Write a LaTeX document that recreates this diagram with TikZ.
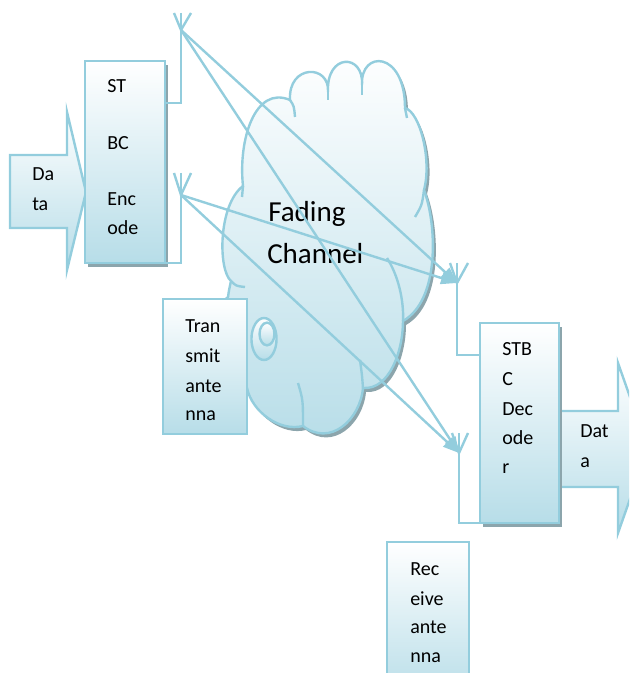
\documentclass[tikz,border=0pt]{standalone}
\usepackage{fontspec}
\setmainfont{Carlito}
\usetikzlibrary{arrows.meta,shadows}
\definecolor{lbs}{RGB}{147,205,221}
\definecolor{lbf}{RGB}{183,221,232}
\definecolor{shd}{RGB}{140,165,172}
\begin{document}
\begin{tikzpicture}[x=0.75pt,y=-0.75pt,
  wire/.style={draw=lbs,line width=1.8pt},
  ray/.style={draw=lbs,line width=1.8pt,-{Triangle[length=12pt,width=9pt]}},
  grad/.style={top color=white,bottom color=lbf},
  boxn/.style={draw=lbs,line width=1.8pt,grad,inner sep=0pt},
  shdw/.style={drop shadow={shadow xshift=2.25pt,shadow yshift=-3pt,fill=shd,opacity=1}},
  lbl/.style={anchor=base west,inner sep=0pt,font=\fontsize{15}{18}\selectfont},
  big/.style={anchor=base west,inner sep=0pt,font=\fontsize{21.75}{26}\selectfont}]
\useasboundingbox (0,0) rectangle (629,673);
\clip (0,0) rectangle (629,673);

% cloud
\path[draw=lbs,line width=1.8pt,grad,shdw]
  (247,388) .. controls (215,400) and (200,320) .. (228,297)
  .. controls (229,290) .. (231,281)
  .. controls (218,270) and (218,205) .. (243,186)
  .. controls (238,140) and (255,85) .. (290,100)
  .. controls (288,64) and (330,64) .. (328,92)
  .. controls (326,53) and (364,53) .. (362,85)
  .. controls (360,50) and (405,50) .. (405,108)
  .. controls (420,112) and (432,160) .. (424,190)
  .. controls (437,225) and (440,300) .. (403,321)
  .. controls (403,350) and (390,390) .. (363,388)
  .. controls (360,420) and (330,447) .. (303,426)
  .. controls (280,432) and (252,412) .. (247,388) -- cycle;
\draw[wire] (243,186) -- (242,197);
\draw[wire] (290,100) .. controls (294,106) .. (295,117);
\draw[wire] (328,92) -- (328,100);
\draw[wire] (362,85) -- (362,95);
\draw[wire] (405,108) -- (407,118);
\draw[wire] (424,190) .. controls (422,205) .. (415,217);
\draw[wire] (387,258) .. controls (398,275) and (404,300) .. (403,321);
\draw[wire] (363,388) .. controls (362,375) .. (360,360);
\draw[wire] (298,383) .. controls (303,400) .. (303,426);
\draw[wire] (231,281) .. controls (236,286) .. (245,287);
\draw[wire,grad] (264,339) ellipse [x radius=9.4pt,y radius=15.75pt];
\draw[wire,grad] (267,334) ellipse [x radius=5.6pt,y radius=8.5pt];
\node[big] (fad) at (268,222) {Fading};
\node[big] (chn) at (267,263) {Channel};

% transmit antenna label box
\node[boxn,minimum width=63pt,minimum height=101.25pt] (txb) at (205,366.5) {};
\node[lbl] (tx1) at (185,332) {Tran};
\node[lbl] (tx2) at (185,362) {smit};
\node[lbl] (tx3) at (185,392) {ante};
\node[lbl] (tx4) at (185,420) {nna};

% left data arrow
\draw[wire,grad] (10,155) -- (67,155) -- (67,112) -- (86,192) -- (67,270) -- (67,228) -- (10,228) -- cycle;
\node[lbl] (din1) at (32,181) {Da};
\node[lbl] (din2) at (32,211) {ta};

% encoder
\node[boxn,shdw,minimum width=60pt,minimum height=151.5pt] (enc) at (125,162) {};
\node[lbl] (e1) at (107,93) {ST};
\node[lbl] (e2) at (107,150) {BC};
\node[lbl] (e3) at (107,206) {Enc};
\node[lbl] (e4) at (107,235) {ode};

% right data arrow
\draw[wire,grad] (550,411) -- (618,411) -- (618,363) -- (648,448) -- (618,533) -- (618,487) -- (550,487) -- cycle;
\node[lbl] (dout1) at (580,437) {Dat};
\node[lbl] (dout2) at (580,467) {a};

% decoder
\node[boxn,shdw,minimum width=59.25pt,minimum height=150pt] (dec) at (519.5,423) {};
\node[lbl] (d1) at (502,355) {STB};
\node[lbl] (d2) at (502,385) {C};
\node[lbl] (d3) at (502,415) {Dec};
\node[lbl] (d4) at (502,444) {ode};
\node[lbl] (d5) at (502,473) {r};

% receive antenna label box
\node[boxn,minimum width=61.5pt,minimum height=118.5pt] (rxb) at (428,621) {};
\node[lbl] (rx1) at (410,575) {Rec};
\node[lbl] (rx2) at (410,605) {eive};
\node[lbl] (rx3) at (410,633) {ante};
\node[lbl] (rx4) at (410,662) {nna};

% antennas
\coordinate (t1f) at (181,30);  \coordinate (t1b) at (181,103);
\coordinate (t2f) at (181,195); \coordinate (t2b) at (181,263);
\coordinate (r1f) at (457,283); \coordinate (r1b) at (457,355);
\coordinate (r2f) at (459,453); \coordinate (r2b) at (459,523);
\draw[wire] (174,13) -- (t1f) -- (191,13);
\draw[wire] (181,13) -- (t1b) -- (enc.east |- t1b);
\draw[wire] (174,173) -- (t2f) -- (191,173);
\draw[wire] (181,173) -- (t2b) -- (enc.east |- t2b);
\draw[wire] (450,263) -- (r1f) -- (468,263);
\draw[wire] (457,263) -- (r1b) -- (dec.west |- r1b);
\draw[wire] (452,433) -- (r2f) -- (468,433);
\draw[wire] (459,433) -- (r2b) -- (dec.west |- r2b);

% rays
\draw[ray] (t1f) -- (r1f);
\draw[ray] (t1f) -- (r2f);
\draw[ray] (t2f) -- (r1f);
\draw[ray] (t2f) -- (r2f);
\end{tikzpicture}
\end{document}
